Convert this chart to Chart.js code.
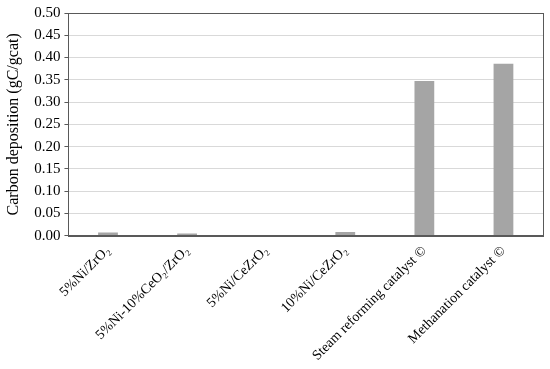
<!DOCTYPE html>
<html>
<head>
<meta charset="utf-8">
<script src="https://cdn.jsdelivr.net/npm/chart.js@4/dist/chart.umd.min.js"></script>
<style>
  html, body { margin: 0; padding: 0; background: #fff; }
  #wrap { width: 550px; height: 369px; }
  .probe { font-family: 'Liberation Serif'; position: absolute; left: -999px; }
</style>
</head>
<body>
<span class="probe">0.5 Carbon ZrO₂</span>
<div id="wrap"><canvas id="carbon"></canvas></div>
<script>
const categories = [
  '5%Ni/ZrO₂',
  '5%Ni-10%CeO₂/ZrO₂',
  '5%Ni/CeZrO₂',
  '10%Ni/CeZrO₂',
  'Steam reforming catalyst ©',
  'Methanation catalyst ©'
];
const carbonDeposition = [0.007, 0.005, 0.0, 0.008, 0.347, 0.386];
const yTicks = [0, 0.05, 0.1, 0.15, 0.2, 0.25, 0.3, 0.35, 0.4, 0.45, 0.5];

const serif = "'Liberation Serif', 'Times New Roman', serif";

// box around the plot area
const frame = {
  id: 'frame',
  afterDraw(chart) {
    const a = chart.chartArea, ctx = chart.ctx;
    ctx.save();
    ctx.strokeStyle = '#595959';
    ctx.lineWidth = 1;
    ctx.strokeRect(Math.round(a.left) + 0.5, Math.round(a.top) + 0.5,
                   Math.round(a.right - a.left), Math.round(a.bottom - a.top));
    ctx.restore();
  }
};

function draw() {
  new Chart(document.getElementById('carbon'), {
    type: 'bar',
    data: {
      labels: categories,
      datasets: [{
        label: 'Carbon deposition',
        data: carbonDeposition,
        backgroundColor: '#a5a5a5',
        barPercentage: 0.25,
        categoryPercentage: 1.0
      }]
    },
    plugins: [frame],
    options: {
      animation: false,
      responsive: true,
      maintainAspectRatio: false,
      layout: { padding: { top: 8, right: 7, left: 4, bottom: 6 } },
      plugins: {
        legend: { display: false },
        tooltip: { enabled: false }
      },
      scales: {
        x: {
          grid: { display: false },
          border: { color: '#595959' },
          ticks: {
            color: '#000',
            maxRotation: 45,
            minRotation: 45,
            autoSkip: false,
            padding: -1,
            font: { family: serif, size: 14 }
          }
        },
        y: {
          min: 0,
          max: 0.5,
          afterBuildTicks(axis) {
            axis.ticks = yTicks.map(v => ({ value: v }));
          },
          grid: { color: '#d9d9d9', tickColor: '#595959', tickLength: 4 },
          border: { color: '#595959' },
          ticks: {
            color: '#000',
            padding: 4,
            font: { family: serif, size: 15 },
            callback: v => v.toFixed(2)
          },
          title: {
            display: true,
            text: 'Carbon deposition (gC/gcat)',
            color: '#000',
            padding: { top: 0, bottom: 7 },
            font: { family: serif, size: 16 }
          }
        }
      }
    }
  });
}

document.fonts.load("14px 'Liberation Serif'").then(draw, draw);
</script>
</body>
</html>
